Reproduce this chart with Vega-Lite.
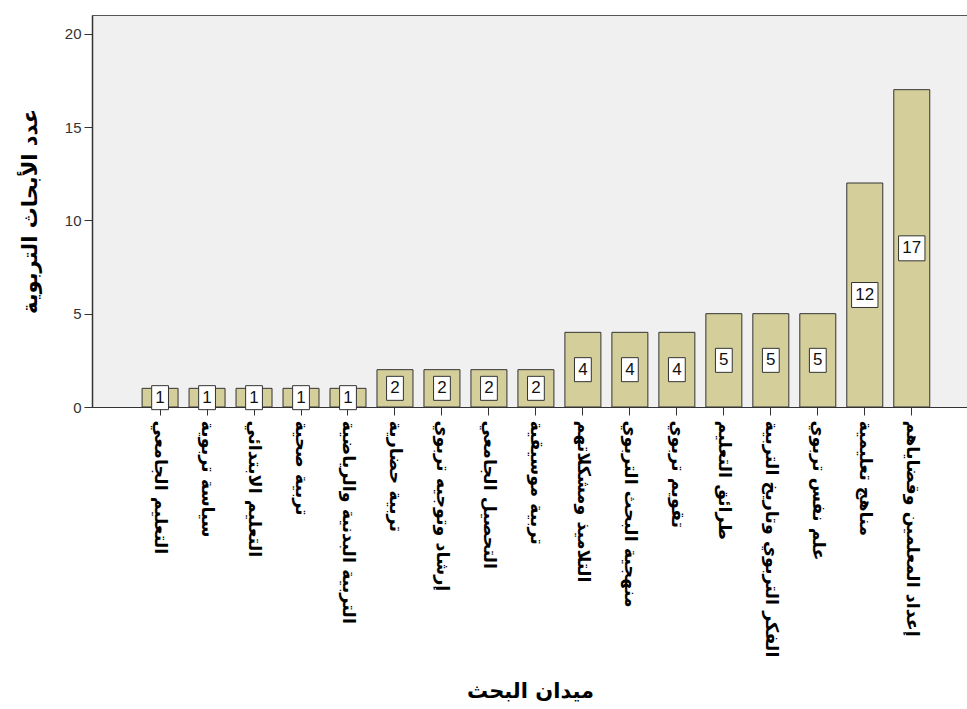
{
  "$schema": "https://vega.github.io/schema/vega-lite/v6.json",
  "autosize": {"type": "none"},
  "padding": {"left": 92, "top": 15, "right": 0, "bottom": 302},
  "width": 876,
  "height": 392,
  "background": "white",
  "config": {
    "view": {"fill": "#f0f0f0", "stroke": "#555", "strokeWidth": 1},
    "font": "DejaVu Sans"
  },
  "data": {
    "values": [
      {"field": "التعليم الجامعي", "count": 1},
      {"field": "سياسة تربوية", "count": 1},
      {"field": "التعليم الابتدائي", "count": 1},
      {"field": "تربية صحية", "count": 1},
      {"field": "التربية البدنية والرياضية", "count": 1},
      {"field": "تربية حضارية", "count": 2},
      {"field": "إرشاد وتوجيه تربوي", "count": 2},
      {"field": "التحصيل الجامعي", "count": 2},
      {"field": "تربية موسيقية", "count": 2},
      {"field": "التلاميذ ومشكلاتهم", "count": 4},
      {"field": "منهجية البحث التربوي", "count": 4},
      {"field": "تقويم تربوي", "count": 4},
      {"field": "طرائق التعليم", "count": 5},
      {"field": "الفكر التربوي وتاريخ التربية", "count": 5},
      {"field": "علم نفس تربوي", "count": 5},
      {"field": "مناهج تعليمية", "count": 12},
      {"field": "إعداد المعلمين وقضاياهم", "count": 17}
    ]
  },
  "encoding": {
    "x": {
      "field": "field",
      "type": "nominal",
      "sort": null,
      "scale": {"paddingInner": 0.234, "paddingOuter": 0.94, "align": 0.567},
      "axis": {
        "title": "ميدان البحث",
        "titleFont": "DejaVu Sans",
        "titleFontSize": 21,
        "titleFontWeight": "bold",
        "titleColor": "#000",
        "titlePadding": 73,
        "labelAngle": 90,
        "labelFont": "DejaVu Sans",
        "labelFontSize": 17.5,
        "labelFontWeight": "bold",
        "labelColor": "#000",
        "labelPadding": 5,
        "labelLimit": 400,
        "tickSize": 8,
        "tickColor": "#333",
        "domainColor": "#333",
        "domainWidth": 1.2
      }
    }
  },
  "layer": [
    {
      "mark": {"type": "bar", "fill": "#d3ce9a", "stroke": "#333", "strokeWidth": 1},
      "encoding": {
        "y": {
          "field": "count",
          "type": "quantitative",
          "scale": {"domain": [0, 21], "nice": false},
          "axis": {
            "title": "عدد الأبحاث التربوية",
            "titleFont": "DejaVu Sans",
            "titleFontSize": 21,
            "titleFontWeight": "bold",
            "titleColor": "#000",
            "titlePadding": 24,
            "values": [0, 5, 10, 15, 20],
            "grid": false,
            "labelFont": "Liberation Sans",
            "labelFontSize": 15,
            "labelColor": "#333",
            "labelPadding": 3,
            "tickSize": 8,
            "tickColor": "#333",
            "domainColor": "#333",
            "domainWidth": 1.5
          }
        }
      }
    },
    {
      "encoding": {
        "y": {
          "field": "count",
          "type": "quantitative",
          "scale": {"domain": [0, 42], "nice": false},
          "axis": null
        }
      },
      "layer": [
        {
          "transform": [{"filter": "datum.count < 10"}],
          "mark": {"type": "point", "shape": "M-0.7,-1H0.7V1H-0.7Z", "size": 576, "filled": true, "fill": "white", "stroke": "#333", "strokeWidth": 1, "opacity": 1}
        },
        {
          "transform": [{"filter": "datum.count >= 10"}],
          "mark": {"type": "point", "shape": "M-1.1,-1.04H1.1V1.04H-1.1Z", "size": 576, "filled": true, "fill": "white", "stroke": "#333", "strokeWidth": 1, "opacity": 1}
        },
        {
          "mark": {"type": "text", "font": "Liberation Sans", "fontSize": 17, "color": "#111", "baseline": "middle", "align": "center"},
          "encoding": {"text": {"field": "count", "type": "quantitative"}}
        }
      ]
    }
  ],
  "resolve": {"scale": {"y": "independent"}}
}
